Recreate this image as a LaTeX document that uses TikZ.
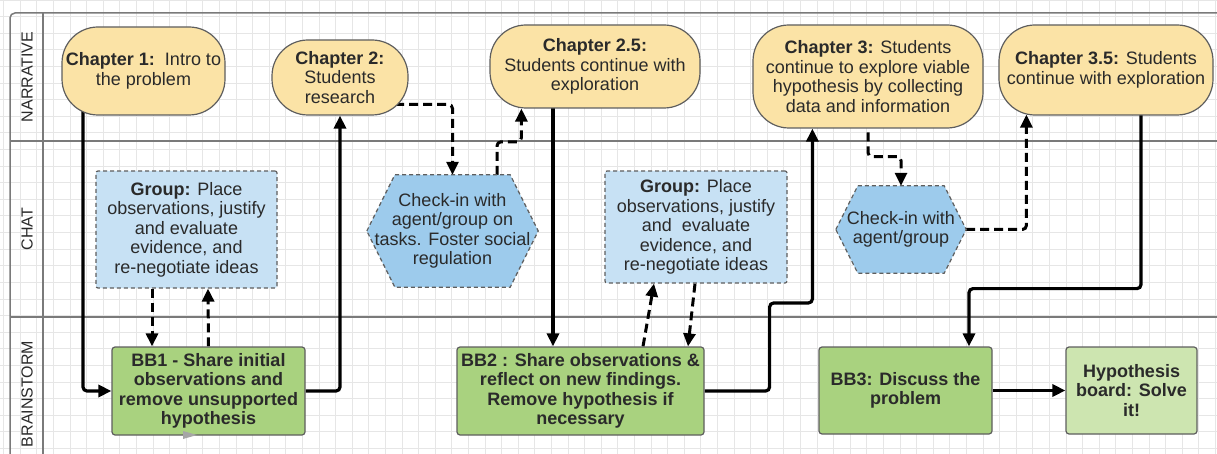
\documentclass[tikz,border=0pt]{standalone}
\usepackage{fontspec}
\setmainfont{Liberation Sans}
\usetikzlibrary{arrows.meta,calc}
\pgfdeclarelayer{gridlayer}
\pgfdeclarelayer{conn}
\pgfdeclarelayer{shapes}
\pgfsetlayers{gridlayer,conn,shapes,main}
\definecolor{yel}{HTML}{FBE3A6}
\definecolor{lblue}{HTML}{C7E1F4}
\definecolor{hblue}{HTML}{9DCBEC}
\definecolor{bbgreen}{HTML}{A9D27F}
\definecolor{hbgreen}{HTML}{CDE5B0}
\definecolor{bordc}{HTML}{5E5E5E}
\definecolor{txtc}{HTML}{2A2A2A}
\definecolor{gridc}{HTML}{E6E6E6}
\definecolor{lanec}{HTML}{7A7A7A}
\tikzset{
  basefont/.style={font=\fontsize{18}{19.5}\selectfont, text=txtc, align=center},
  chap/.style={basefont, rectangle, rounded corners=36pt, draw=bordc, line width=1.2pt, fill=yel, inner sep=0pt},
  grp/.style={basefont, rectangle, rounded corners=2pt, draw=bordc, line width=1.2pt, dash pattern=on 4pt off 3pt, fill=lblue, inner sep=0pt},
  bbox/.style={basefont, font=\fontsize{18}{19.5}\selectfont\bfseries, rectangle, rounded corners=3pt, draw=bordc, line width=1.2pt, fill=bbgreen, inner sep=0pt},
  hexnode/.style={basefont, rectangle, inner sep=0pt},
  hexfill/.style={draw=bordc, line width=1.2pt, dash pattern=on 4pt off 3pt, fill=hblue},
  lanelabel/.style={font=\fontsize{16}{18}\selectfont, text=txtc, rotate=90},
  solidconn/.style={line width=3.2pt, rounded corners=4pt, -{Triangle[length=13pt,width=12pt]}},
  dashconn/.style={line width=3pt, rounded corners=4pt, dash pattern=on 9pt off 5pt, -{Triangle[length=13pt,width=12pt]}},
}
\newcommand{\hexagonpath}[2]{%
  \path[hexfill] (#1.west) -- ($(#1.north west)+(#2,0)$) -- ($(#1.north east)+(-#2,0)$) -- (#1.east) -- ($(#1.south east)+(-#2,0)$) -- ($(#1.south west)+(#2,0)$) -- cycle;}
\begin{document}
\begin{tikzpicture}[x=1pt,y=-1pt]
\useasboundingbox (0,0) rectangle (1217,454);
\begin{pgfonlayer}{gridlayer}
  \fill[white] (0,0) rectangle (1217,454);
  \foreach \i in {0,...,73} \draw[gridc, line width=0.6pt] ({3.4+16.6*\i},0) -- ({3.4+16.6*\i},454);
  \foreach \j in {0,...,27} \draw[gridc, line width=0.6pt] (0,{16.6*\j}) -- (1217,{16.6*\j});
  \draw[lanec, line width=1.5pt, rounded corners=5pt] (10,454) -- (10,13) -- (1217,13);
  \draw[lanec, line width=1.5pt] (43,13) -- (43,454);
  \draw[lanec, line width=1.5pt] (10,141) -- (1217,141);
  \draw[lanec, line width=1.5pt] (10,317) -- (1217,317);
\end{pgfonlayer}
\node[lanelabel] (ln) at (27,77) {NARRATIVE};
\node[lanelabel] (lc) at (27,229) {CHAT};
\node[lanelabel] (lb) at (27,394) {BRAINSTORM};
% narrative
\node[chap, minimum width=163pt, minimum height=88pt] (ch1) at (143.5,71) {\textbf{Chapter 1:}\ \ Intro to\\the problem};
\node[chap, minimum width=136pt, minimum height=75pt] (ch2) at (340,77.5) {\textbf{Chapter 2:}\\Students\\research};
\node[chap, minimum width=210pt, minimum height=83pt] (ch25) at (595,66.5) {\textbf{Chapter 2.5:}\\Students continue with\\exploration};
\node[chap, minimum width=230pt, minimum height=103pt] (ch3) at (868,76.5) {\textbf{Chapter 3:} Students\\continue to explore viable\\hypothesis by collecting\\data and information};
\node[chap, minimum width=214pt, minimum height=90pt] (ch35) at (1106,70) {\textbf{Chapter 3.5:} Students\\continue with exploration};
% chat
\node[grp, minimum width=181pt, minimum height=117pt] (g1) at (186.5,229.5) {\textbf{Group:} Place\\observations, justify\\and evaluate\\evidence, and\\re-negotiate ideas};
\node[hexnode, minimum width=171pt, minimum height=112pt] (h1) at (452.5,231) {Check-in with\\agent/group on\\tasks. Foster social\\regulation};
\node[grp, minimum width=182pt, minimum height=112pt] (g2) at (696,227) {\textbf{Group:} Place\\observations, justify\\and\ \ evaluate\\evidence, and\\re-negotiate ideas};
\node[hexnode, minimum width=130pt, minimum height=87pt] (h2) at (901,229.5) {Check-in with\\agent/group};
\begin{pgfonlayer}{shapes}
  \hexagonpath{h1}{28}
  \hexagonpath{h2}{22}
\end{pgfonlayer}
% brainstorm
\node[bbox, minimum width=193pt, minimum height=88pt] (bb1) at (208.5,391) {BB1 - Share initial\\observations and\\remove unsupported\\hypothesis};
\node[bbox, minimum width=247pt, minimum height=88pt] (bb2) at (580.5,391) {BB2 : Share observations \&\\reflect on new findings.\\Remove hypothesis if\\necessary};
\node[bbox, minimum width=173pt, minimum height=87pt] (bb3) at (905.5,390.5) {BB3: Discuss the\\problem};
\node[bbox, fill=hbgreen, minimum width=131pt, minimum height=87pt] (hb) at (1131.5,390.5) {Hypothesis\\board: Solve\\it!};
\fill[gray!70] (183,431) -- (197,435) -- (183,439) -- cycle;
% connectors
\begin{pgfonlayer}{conn}
  \draw[solidconn] ($(ch1.center)+(-60.5,0)$) |- (bb1.west);
  \draw[solidconn] (bb1.east) -| (ch2.south);
  \draw[dashconn] ($(ch2.center)+(55,27)$) -| (h1.north);
  \draw[dashconn] ($(h1.north)+(44.5,0)$) -- ++(0,-33) -| ($(ch25.south west)+(32,0)$);
  \draw[solidconn] ($(ch25.center)+(-42,0)$) -- ($(bb2.north)+(-27.5,0)$);
  \draw[dashconn] ($(bb2.north)+(62.5,0)$) -- ($(g2.south)+(-42,0)$);
  \draw[dashconn] ($(g2.south)+(-1,0)$) -- ($(bb2.north)+(107.5,0)$);
  \draw[solidconn] (bb2.east) -| ($(bb2.east)+(65,-88)$) -| ($(ch3.south west)+(60,0)$);
  \draw[dashconn] (ch3.center) -- ($(ch3.south)+(0,28)$) -| (h2.north);
  \draw[dashconn] (h2.east) -| ($(ch35.south west)+(28,-1)$);
  \draw[solidconn] ($(ch35.center)+(35,0)$) -- ($(ch35.south)+(35,173)$) -| ($(bb3.north)+(63.5,0)$);
  \draw[solidconn] (bb3.east) -- (hb.west);
  \draw[dashconn] ($(g1.south)+(-34.5,0)$) -- ($(bb1.north)+(-56.5,0)$);
  \draw[dashconn] (bb1.north) -- ($(g1.south)+(21.5,0)$);
\end{pgfonlayer}
\end{tikzpicture}
\end{document}
